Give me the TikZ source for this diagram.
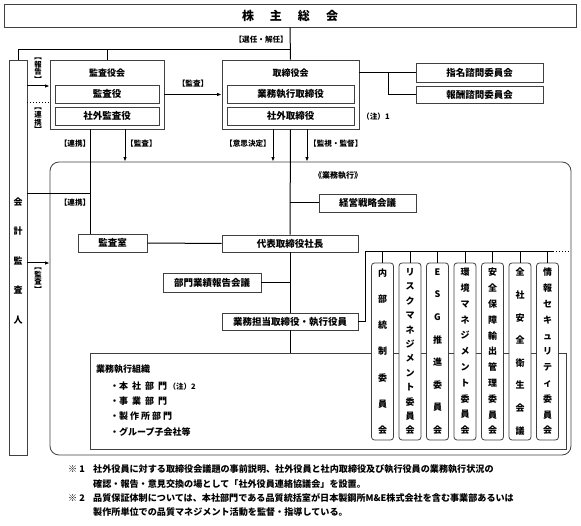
\documentclass[tikz,border=0pt]{standalone}
\usepackage{fontspec}
\setmainfont{Noto Sans CJK JP}
\usetikzlibrary{arrows.meta}
\tikzset{
  box/.style={draw=black!75, line width=0.8pt, fill=white, inner sep=0pt,
    font=\bfseries\fontsize{9.5}{11}\selectfont},
  ttl/.style={inner sep=0pt, font=\bfseries\fontsize{9}{10}\selectfont},
  lab/.style={inner sep=0pt, font=\bfseries\fontsize{7.6}{9}\selectfont},
  vlab/.style={inner sep=0pt, align=center, font=\bfseries\fontsize{7.4}{7.6}\selectfont},
  conn/.style={line width=1pt},
  arr/.style={conn, -{Latex[length=4.5pt,width=3.5pt]}},
  vtext/.style={align=center, inner sep=0pt, font=\bfseries\fontsize{9}{#1}\selectfont},
  comm/.style={box, rounded corners=3pt, minimum width=22pt, minimum height=177pt},
  note/.style={inner sep=0pt, anchor=west, font=\bfseries\fontsize{9.1}{10}\selectfont},
  item/.style={inner sep=0pt, anchor=west, font=\bfseries\fontsize{9}{10}\selectfont},
}
\begin{document}
\begin{tikzpicture}[x=1pt,y=-1pt]
\useasboundingbox (0,0) rectangle (581,526);

% top
\node[box, minimum width=572pt, minimum height=23pt, font=\bfseries\fontsize{12}{13}\selectfont]
  (kab) at (290,15.5) {株\hspace{16pt}主\hspace{16pt}総\hspace{16pt}会};

% auditor
\node[box, minimum width=18pt, minimum height=395pt] (kaikei) at (18,257.5) {};
\node[vtext=29.5pt] (kaikeit) at (18,261) {会\\計\\監\\査\\人};

% audit board
\node[box, minimum width=114pt, minimum height=69pt] (kyk) at (107,94.5) {};
\node[ttl] (kykt) at (107,73) {監査役会};
\node[box, minimum width=104pt, minimum height=18pt] (ky) at (107,94) {監査役};
\node[box, minimum width=104pt, minimum height=18pt] (sgk) at (107,116) {社外監査役};

% board of directors
\node[box, minimum width=137pt, minimum height=69pt] (tk) at (290.5,94.5) {};
\node[ttl] (tkt) at (290.5,73) {取締役会};
\node[box, minimum width=127pt, minimum height=18pt] (gst) at (290.5,94) {業務執行取締役};
\node[box, minimum width=127pt, minimum height=18pt] (sgt) at (290.5,116) {社外取締役};
\node[lab, anchor=west] (chu1) at (362,117) {（注）1};

% committees top right
\node[box, minimum width=127pt, minimum height=19pt] (shimei) at (479.5,72.5) {指名諮問委員会};
\node[box, minimum width=127pt, minimum height=17pt] (houshu) at (479.5,94.5) {報酬諮問委員会};

% big rounded box
\node[draw=black!75, line width=0.8pt, rounded corners=9pt, minimum width=521pt,
  minimum height=293pt, inner sep=0pt] (exec) at (310.5,308.5) {};
\node[ttl, font=\bfseries\fontsize{8}{9}\selectfont] (gsk) at (338,176) {《業務執行》};

\node[box, minimum width=97pt, minimum height=18pt] (keiei) at (367.5,203) {経営戦略会議};
\node[box, minimum width=136pt, minimum height=17pt] (daihyo) at (290,243.5) {代表取締役社長};
\node[box, minimum width=69pt, minimum height=18pt] (kss) at (112.5,243) {監査室};
\node[box, minimum width=98pt, minimum height=19pt] (bumon) at (212,282.5) {部門業績報告会議};
\node[box, minimum width=136pt, minimum height=17pt] (tanto) at (290,321.5) {業務担当取締役・執行役員};

% organisation box
\node[box, minimum width=476pt, minimum height=96pt] (soshiki) at (328,401) {};
\node[item] (s0) at (96,369) {業務執行組織};
\node[item] (s1) at (110,386) {・本\hspace{4pt}社\hspace{4pt}部\hspace{4pt}門\,{\fontsize{7.5}{8}\selectfont（注）2}};
\node[item] (s2) at (110,401.5) {・事\hspace{4pt}業\hspace{4pt}部\hspace{4pt}門};
\node[item] (s3) at (110,416.5) {・製\hspace{2pt}作\hspace{2pt}所\hspace{2pt}部\hspace{2pt}門};
\node[item] (s4) at (110,432) {・グループ子会社等};

% vertical committees
\node[comm, vtext=26.3pt] (c1) at (382.5,351.5) {内\\部\\統\\制\\委\\員\\会};
\node[comm, vtext=14.4pt] (c2) at (410,351.5) {リ\\ス\\ク\\マ\\ネ\\ジ\\メ\\ン\\ト\\委\\員\\会};
\node[comm, vtext=22.6pt] (c3) at (437.5,351.5) {E\\S\\G\\推\\進\\委\\員\\会};
\node[comm, vtext=15.8pt] (c4) at (465,351.5) {環\\境\\マ\\ネ\\ジ\\メ\\ン\\ト\\委\\員\\会};
\node[comm, vtext=15.8pt] (c5) at (492.5,351.5) {安\\全\\保\\障\\輸\\出\\管\\理\\委\\員\\会};
\node[comm, vtext=22.6pt] (c6) at (520,351.5) {全\\社\\安\\全\\衛\\生\\会\\議};
\node[comm, vtext=15.8pt] (c7) at (547.5,351.5) {情\\報\\セ\\キ\\ュ\\リ\\テ\\ィ\\委\\員\\会};

% helper coordinates
\coordinate (t50) at (0,50);
\coordinate (br1) at (388,72.5);
\coordinate (a1) at (0,86);
\coordinate (a2) at (0,103);
\coordinate (a3) at (0,194);
\coordinate (a4) at (0,263);
\coordinate (v90) at (90,0);
\coordinate (v125) at (125,0);
\coordinate (v273) at (273,0);
\coordinate (v307) at (307,0);
\coordinate (h252) at (365,252);
\coordinate (hend) at (553,252);
\coordinate (hdot) at (569,252);

% connectors top
\draw[conn] (kab.south) -- (tk.north);
\draw[conn] (kaikei.north) |- (kab.south |- t50);
\draw[conn] (kyk.north) -- (kyk.north |- t50);
\node[lab, anchor=east] (l1) at (288,39.5) {【選任・解任】};

\draw[arr] (kyk.east) -- (tk.west);
\node[lab] (l2) at (193,84) {【監査】};

\draw[conn] (shimei.west -| tk.east) -- (shimei.west);
\draw[conn] (br1) |- (houshu.west);

% auditor links
\draw[arr] (kaikei.east |- a1) -- (kyk.west |- a1);
\draw[conn, dotted] (kaikei.east |- a2) -- (kyk.west |- a2);
\node[vlab] (l3) at (38,70) {︻\\報\\告\\︼};
\node[vlab] (l4) at (38,120.5) {︻\\連\\携\\︼};
\draw[conn] (kyk.south -| v90) -- (kss.north -| v90);
\draw[conn] (kaikei.east |- a3) -- (v90 |- a3);
\draw[arr] (kaikei.east |- a4) -- (exec.west |- a4);
\node[vlab] (l5) at (38,280) {︻\\監\\査\\︼};
\node[lab] (l6) at (75,144) {【連携】};
\node[lab] (l7) at (75,203) {【連携】};
\draw[arr] (kyk.south -| v125) -- (exec.north -| v125);
\node[lab, anchor=west] (l8) at (126,144) {【監査】};

% board to exec
\draw[arr] (tk.south -| v273) -- (exec.north -| v273);
\node[lab, anchor=east] (l9) at (271,144) {【意思決定】};
\draw[arr] (tk.south -| v307) -- (exec.north -| v307);
\node[lab, anchor=west] (l10) at (309,144) {【監視・監督】};

% exec tree
\draw[conn] (tk.south) -- (daihyo.north);
\draw[conn] (keiei.west) -- (keiei.west -| daihyo.north);
\draw[conn] (kss.east) -- (daihyo.west);
\draw[conn] (daihyo.south) -- (tanto.north);
\draw[conn] (bumon.east) -- (bumon.east -| daihyo.south);
\draw[conn] (tanto.south) -- (soshiki.north -| tanto.south);
\draw[conn] (tanto.east) -| (h252) -- (hend);
\draw[conn, dotted] (hend) -- (hdot);
\foreach \c in {c1,c2,c3,c4,c5,c6,c7}
  \draw[conn] (\c.north) -- (\c.north |- h252);

% notes
\node[note] (n1m) at (68,469) {※ 1};
\node[note] (n1a) at (93,469) {社外役員に対する取締役会議題の事前説明、社外役員と社内取締役及び執行役員の業務執行状況の};
\node[note] (n1b) at (93,484) {確認・報告・意見交換の場として「社外役員連絡協議会」を設置。};
\node[note] (n2m) at (68,498) {※ 2};
\node[note] (n2a) at (93,498) {品質保証体制については、本社部門である品質統括室が日本製鋼所M\&E株式会社を含む事業部あるいは};
\node[note] (n2b) at (93,512) {製作所単位での品質マネジメント活動を監督・指導している。};
\end{tikzpicture}
\end{document}
